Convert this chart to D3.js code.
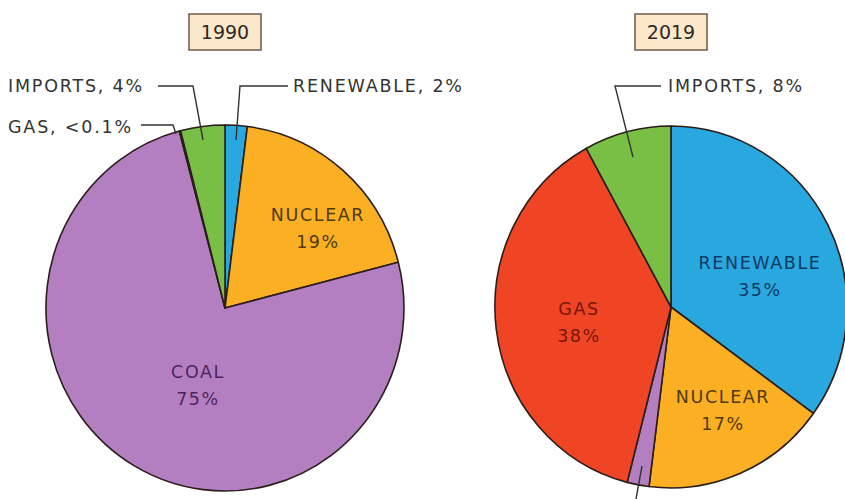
<!DOCTYPE html>
<html>
<head>
<meta charset="utf-8">
<script src="https://cdn.jsdelivr.net/npm/d3@7/dist/d3.min.js"></script>
<style>
  html, body { margin: 0; padding: 0; background: #ffffff; }
  svg { display: block; }
  text { font-family: "DejaVu Sans", "Open Sans", sans-serif; }
</style>
</head>
<body>
<svg id="chart" width="845" height="499"></svg>
<script>
// Electricity sources, share of supply (%), listed clockwise from 12 o'clock
const sources1990 = ["RENEWABLE", "NUCLEAR", "COAL", "GAS", "IMPORTS"];
const values1990  = [2, 19, 75, 0.1, 4];
const labels1990  = ["2%", "19%", "75%", "<0.1%", "4%"];

const sources2019 = ["RENEWABLE", "NUCLEAR", "COAL", "GAS", "IMPORTS"];
const values2019  = [35, 17, 2, 38, 8];
const labels2019  = ["35%", "17%", "2%", "38%", "8%"];

const years = ["1990", "2019"];

const fills = {
  RENEWABLE: "#29a8e0",
  NUCLEAR:   "#fbb023",
  COAL:      "#b47fc0",
  GAS:       "#ef4524",
  IMPORTS:   "#79bf45"
};
const inkColours = {
  RENEWABLE: "#0f3b63",
  NUCLEAR:   "#4f3a06",
  COAL:      "#4e2560",
  GAS:       "#7a1509",
  IMPORTS:   "#2c4a12"
};

const svg = d3.select("#chart");

// Pie geometry: each pie is a slightly hand-drawn ellipse
const pies = [
  { year: years[0], sources: sources1990, values: values1990, labels: labels1990,
    cx: 225, cy: 308, rx: 179, ry: 183,
    inside: { NUCLEAR: [93, -87], COAL: [-27, 70] },
    outside: {
      IMPORTS:   { text: [8, 86, "start"],  path: [[158, 86], [193, 86], [203, 140]] },
      GAS:       { text: [8, 127, "start"], path: [[141, 125], [173, 125], [176, 134]] },
      RENEWABLE: { text: [293, 86, "start"], path: [[288, 86], [240, 86], [236, 140]] }
    } },
  { year: years[1], sources: sources2019, values: values2019, labels: labels2019,
    cx: 671, cy: 307, rx: 176, ry: 181,
    inside: { RENEWABLE: [89, -38], GAS: [-92, 8], NUCLEAR: [52, 96] },
    outside: {
      IMPORTS: { text: [668, 86, "start"], path: [[661, 86], [615, 86], [633, 157]] },
      COAL:    { text: [486, 506, "start"], path: [[642, 466], [636, 499]] }
    } }
];

const pie = d3.pie().sort(null).value(d => d.value).startAngle(0).endAngle(2 * Math.PI);
const arc = d3.arc().innerRadius(0).outerRadius(1);

pies.forEach(p => {
  const data = p.sources.map((s, i) => ({ source: s, value: p.values[i], label: p.labels[i] }));
  const g = svg.append("g");

  // Slices (unit arcs stretched to the ellipse)
  g.append("g")
    .attr("transform", `translate(${p.cx},${p.cy}) scale(${p.rx},${p.ry})`)
    .selectAll("path")
    .data(pie(data))
    .join("path")
    .attr("d", arc)
    .attr("fill", d => fills[d.data.source])
    .attr("stroke", "#2b1d1a")
    .attr("stroke-width", 1.6)
    .attr("stroke-linejoin", "round")
    .attr("vector-effect", "non-scaling-stroke");

  // Year tag
  const tag = g.append("g").attr("transform", `translate(${p.cx},32)`);
  tag.append("rect")
    .attr("x", -36).attr("y", -18).attr("width", 72).attr("height", 36)
    .attr("fill", "#fbe7c9").attr("stroke", "#6b5a4a").attr("stroke-width", 1.5);
  tag.append("text")
    .attr("text-anchor", "middle").attr("dy", "0.36em")
    .attr("font-size", 19).attr("fill", "#2e2a28")
    .text(p.year);

  // Labels inside the larger slices
  data.forEach(d => {
    const pos = p.inside[d.source];
    if (!pos) return;
    const t = g.append("text")
      .attr("text-anchor", "middle")
      .attr("font-size", 17.5)
      .attr("letter-spacing", 1.6)
      .attr("fill", inkColours[d.source]);
    t.append("tspan").attr("x", p.cx + pos[0]).attr("y", p.cy + pos[1]).text(d.source);
    t.append("tspan").attr("x", p.cx + pos[0]).attr("y", p.cy + pos[1] + 27).text(d.label);
  });

  // Leader-line labels for the thin slices
  data.forEach(d => {
    const o = p.outside[d.source];
    if (!o) return;
    g.append("path")
      .attr("d", d3.line()(o.path))
      .attr("fill", "none").attr("stroke", "#333").attr("stroke-width", 1.4);
    g.append("text")
      .attr("x", o.text[0]).attr("y", o.text[1])
      .attr("dy", "0.36em")
      .attr("text-anchor", o.text[2])
      .attr("font-size", 17.5)
      .attr("letter-spacing", 1.8)
      .attr("fill", "#333")
      .text(`${d.source}, ${d.label}`);
  });
});
</script>
</body>
</html>
